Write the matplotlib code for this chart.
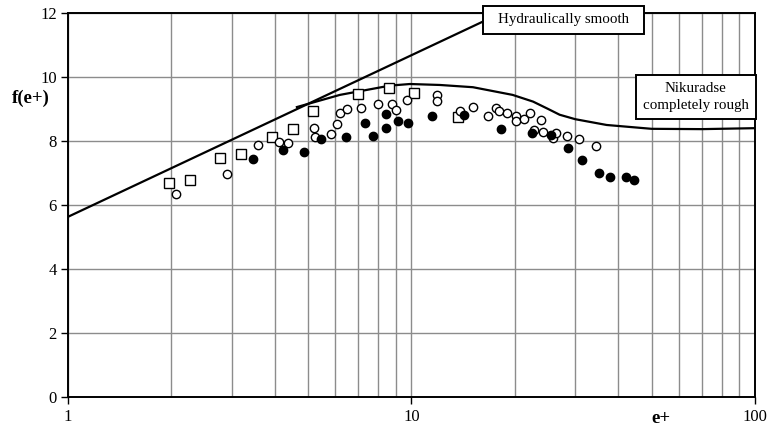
import matplotlib
matplotlib.use("Agg")
import matplotlib.pyplot as plt
from matplotlib.patches import Rectangle
from matplotlib.ticker import FixedLocator, NullFormatter

plt.rcParams['font.family'] = ['Liberation Serif', 'DejaVu Serif']

# hydraulically smooth law (straight line on log axis)
smooth_x = [1, 10, 30]
smooth_y = [5.63, 10.68, 13.09]

# Nikuradse completely rough curve
rough_x = [4.64, 6.19, 8.66, 9.9, 12.1, 15.1, 19.7, 22.6, 25.0, 27.0, 30.0, 37.0, 50.0, 70.0, 100.0]
rough_y = [9.06, 9.44, 9.73, 9.78, 9.75, 9.68, 9.44, 9.23, 9.0, 8.82, 8.68, 8.5, 8.38, 8.37, 8.40]

# measurements
sq_x = [1.965, 2.27, 2.77, 3.20, 3.93, 4.53, 5.18, 6.99, 8.62, 10.17, 13.69]
sq_y = [6.70, 6.79, 7.46, 7.58, 8.12, 8.38, 8.94, 9.46, 9.66, 9.49, 8.76]

open_x = [2.06, 2.91, 3.57, 4.11, 4.38, 5.19, 5.25, 5.83, 6.07, 6.18, 6.5, 7.11, 7.99,
          8.76, 9.01, 9.70, 11.84, 11.88, 13.84, 15.1, 16.74, 17.58, 17.98, 18.93,
          20.11, 20.15, 21.3, 22.2, 22.7, 23.9, 24.1, 25.9, 26.3, 28.4, 30.7, 34.4]
open_y = [6.34, 6.98, 7.86, 7.96, 7.94, 8.39, 8.13, 8.22, 8.54, 8.86, 8.99, 9.02, 9.16,
          9.15, 8.97, 9.28, 9.44, 9.25, 8.95, 9.06, 8.79, 9.03, 8.95, 8.86,
          8.79, 8.61, 8.69, 8.87, 8.34, 8.66, 8.29, 8.08, 8.24, 8.17, 8.06, 7.84]

fill_x = [3.45, 4.23, 4.88, 5.45, 6.45, 7.34, 7.73, 8.45, 8.44, 9.12, 9.75, 11.47, 14.25,
          18.26, 22.47, 25.4, 28.5, 31.4, 35.1, 37.8, 42.2, 44.5]
fill_y = [7.43, 7.71, 7.64, 8.06, 8.13, 8.57, 8.17, 8.85, 8.40, 8.61, 8.55, 8.79, 8.80,
          8.36, 8.24, 8.19, 7.77, 7.41, 7.01, 6.89, 6.87, 6.77]

fig = plt.figure(figsize=(7.68, 4.32), dpi=100)
ax = fig.add_axes([0.0885, 0.081, 0.8945, 0.889])

ax.plot(smooth_x, smooth_y, color='black', lw=1.6, zorder=3)
ax.plot(rough_x, rough_y, color='black', lw=1.6, zorder=3)
ax.plot(sq_x, sq_y, 's', ms=6.5, mfc='white', mec='black', mew=1.0, zorder=4)
ax.plot(open_x, open_y, 'o', ms=6, mfc='white', mec='black', mew=1.0, zorder=4)
ax.plot(fill_x, fill_y, 'o', ms=6, mfc='black', mec='black', zorder=5)

ax.set_xscale('log')
ax.set_xlim(1, 100)
ax.set_ylim(0, 12)
ax.set_yticks([0, 2, 4, 6, 8, 10, 12])
ax.xaxis.set_major_locator(FixedLocator([1, 10, 100]))
ax.set_xticklabels(['1', '10', '100'])
ax.xaxis.set_minor_locator(FixedLocator([2, 3, 4, 5, 6, 7, 8, 9, 20, 30, 40, 50, 60, 70, 80, 90]))
ax.xaxis.set_minor_formatter(NullFormatter())
ax.tick_params(axis='x', which='minor', length=0)
ax.tick_params(axis='both', which='major', labelsize=12, length=5, width=1, direction='out')
ax.tick_params(axis='y', pad=3)
ax.grid(True, which='both', color='#8c8c8c', lw=1.0)
ax.set_axisbelow(True)
for s in ax.spines.values():
    s.set_linewidth(1.4)
    s.set_color('black')

fig.text(0.0156, 0.773, 'f(e+)', fontsize=13.5, fontweight='bold', ha='left', va='center')
fig.text(0.860, 0.032, 'e+', fontsize=13.5, fontweight='bold', ha='center', va='center')

# label boxes
fig.patches.append(Rectangle((0.629, 0.9213), 0.2095, 0.0647, transform=fig.transFigure,
                             fc='white', ec='black', lw=1.4, zorder=10))
fig.text(0.7338, 0.954, 'Hydraulically smooth', fontsize=10.8, ha='center', va='center', zorder=11)
fig.patches.append(Rectangle((0.828, 0.7245), 0.156, 0.1019, transform=fig.transFigure,
                             fc='white', ec='black', lw=1.4, zorder=10))
fig.text(0.906, 0.7755, 'Nikuradse\ncompletely rough', fontsize=10.8, ha='center', va='center',
         linespacing=1.35, zorder=11)

fig.savefig('out.png', dpi=100)
